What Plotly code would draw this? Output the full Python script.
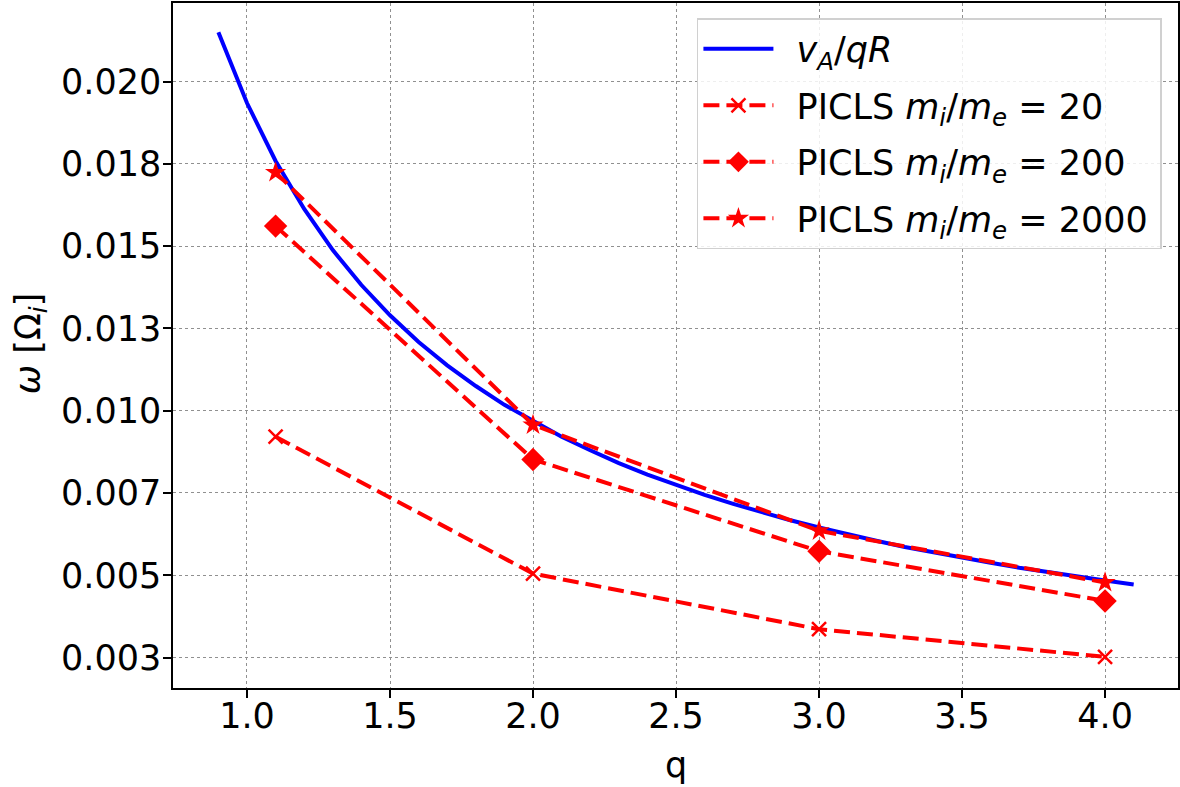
import plotly.graph_objects as go

# ---- data ----
q_theory = [0.9, 1.0, 1.1, 1.2, 1.3, 1.4, 1.5, 1.6, 1.7, 1.8, 1.9, 2.0, 2.1, 2.2, 2.3, 2.4, 2.5,
            2.6, 2.7, 2.8, 2.9, 3.0, 3.1, 3.2, 3.3, 3.4, 3.5, 3.6, 3.7, 3.8, 3.9, 4.0, 4.1]
omega_theory = [0.02150, 0.01935, 0.01759, 0.01613, 0.01488, 0.01382, 0.01290, 0.01209,
                0.01138, 0.01075, 0.01018, 0.00968, 0.00921, 0.00880, 0.00841, 0.00806,
                0.00774, 0.00744, 0.00717, 0.00691, 0.00667, 0.00645, 0.00624, 0.00605,
                0.00586, 0.00569, 0.00553, 0.00538, 0.00523, 0.00509, 0.00496, 0.00484,
                0.00472]

q_sim = [1.1, 2.0, 3.0, 4.0]
omega_m20 = [0.00921, 0.00505, 0.00336, 0.00252]
omega_m200 = [0.01561, 0.00852, 0.00573, 0.00422]
omega_m2000 = [0.01724, 0.00957, 0.00635, 0.00478]

y_tickvals = [0.0025, 0.0050, 0.0075, 0.0100, 0.0125, 0.0150, 0.0175, 0.0200]
y_ticktext = ["0.003", "0.005", "0.007", "0.010", "0.013", "0.015", "0.018", "0.020"]
x_tickvals = [1.0, 1.5, 2.0, 2.5, 3.0, 3.5, 4.0]
x_ticktext = ["1.0", "1.5", "2.0", "2.5", "3.0", "3.5", "4.0"]

FONT = "DejaVu Sans"
FS = 35
RED = "#ff0000"
BLUE = "#0000ff"
DASH = "16px,7px"
SP = "&nbsp;&#8201;"
TR = "&#8201;"

fig = go.Figure()
fig.add_trace(go.Scatter(
    x=q_theory, y=omega_theory, mode="lines",
    line=dict(color=BLUE, width=4),
    name=SP + "<i>v<sub>A</sub></i>/<i>qR</i>" + TR, legendgroup="a"))
fig.add_trace(go.Scatter(
    x=q_sim, y=omega_m20, mode="lines+markers",
    line=dict(color=RED, width=4, dash=DASH),
    marker=dict(symbol="x-thin", size=14, color=RED, line=dict(color=RED, width=2.5)),
    name=SP + "PICLS <i>m<sub>i</sub></i>/<i>m<sub>e</sub></i> = 20" + TR, legendgroup="b"))
fig.add_trace(go.Scatter(
    x=q_sim, y=omega_m200, mode="lines+markers",
    line=dict(color=RED, width=4, dash=DASH),
    marker=dict(symbol="diamond", size=18, color=RED),
    name=SP + "PICLS <i>m<sub>i</sub></i>/<i>m<sub>e</sub></i> = 200" + TR, legendgroup="c"))
fig.add_trace(go.Scatter(
    x=q_sim, y=omega_m2000, mode="lines+markers",
    line=dict(color=RED, width=4, dash=DASH),
    marker=dict(symbol="star", size=16, color=RED),
    name=SP + "PICLS <i>m<sub>i</sub></i>/<i>m<sub>e</sub></i> = 2000" + TR, legendgroup="d"))

axis_common = dict(
    showline=True, linecolor="black", linewidth=1.5, mirror=True,
    ticks="outside", ticklen=8, tickwidth=1.5, tickcolor="black",
    showgrid=True, gridcolor="#909090", gridwidth=1.2, griddash="dot",
    zeroline=False, automargin=False,
    tickfont=dict(family=FONT, size=FS, color="black"),
)

fig.update_xaxes(
    range=[0.7413, 4.255], tickvals=x_tickvals, ticktext=x_ticktext,
    ticklabelstandoff=-12,
    **axis_common)
fig.update_yaxes(
    range=[0.001574, 0.02239], tickvals=y_tickvals, ticktext=y_ticktext,
    ticklabelstandoff=-5,
    **axis_common)

# axis titles (placed in paper coordinates relative to the plot area)
fig.add_annotation(text="q", xref="paper", yref="paper", x=0.5, y=-0.1124,
                   xanchor="center", yanchor="middle", showarrow=False,
                   font=dict(family=FONT, size=FS, color="black"))
fig.add_annotation(text="<i>ω</i> [Ω<sub><i>i</i></sub>]", xref="paper", yref="paper",
                   x=-0.1423, y=0.5034, xanchor="center", yanchor="middle",
                   textangle=-90, showarrow=False,
                   font=dict(family=FONT, size=FS, color="black"))

fig.update_layout(
    width=1180, height=787,
    margin=dict(l=173, r=2, t=3, b=99),
    paper_bgcolor="white", plot_bgcolor="white",
    font=dict(family=FONT, size=FS, color="black"),
    legend=dict(
        x=0.984, y=0.978, xanchor="right", yanchor="top",
        bgcolor="rgba(255,255,255,0.85)", bordercolor="#d0d0d0", borderwidth=1.5,
        font=dict(family=FONT, size=FS, color="black"),
        itemwidth=70, tracegroupgap=8,
    ),
    showlegend=True,
)

fig.write_html("out.html", config={"displayModeBar": False},
               post_script="document.body.style.margin='0';document.body.style.overflow='hidden';")
